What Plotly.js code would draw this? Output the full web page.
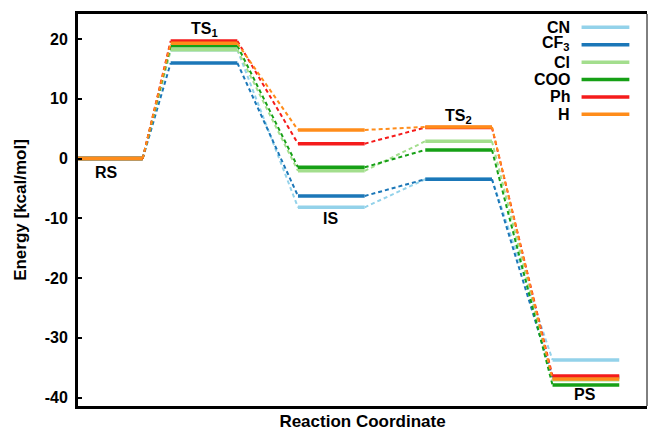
<!DOCTYPE html>
<html>
<head>
<meta charset="utf-8">
<script src="https://cdn.plot.ly/plotly-3.0.1.min.js"></script>
<style>html,body{margin:0;padding:0;background:#fff;}#chart{width:648px;height:431px;}</style>
</head>
<body>
<div id="chart"></div>
<script>
// ---- data ----
const states = ['RS', 'TS<sub>1</sub>', 'IS', 'TS<sub>2</sub>', 'PS'];
const seriesNames = ['CN', 'CF<sub>3</sub>', 'Cl', 'COO', 'Ph', 'H'];
const CN   = [0, 18.2, -8.15, -3.45, -33.7];
const CF3  = [0, 16.0, -6.25, -3.45, -36.6];
const Cl   = [0, 18.2, -2.05,  2.9,  -37.0];
const COO  = [0, 18.9, -1.45,  1.45, -37.9];
const Ph   = [0, 19.7,  2.5,   5.2,  -36.4];
const H    = [0, 19.3,  4.8,   5.3,  -36.9];
const yTicks = [-40, -30, -20, -10, 0, 10, 20];
const yTickText = ['-40', '-30', '-20', '-10', '0', '10', '20'];

// ---- layout / style ----
const seriesValues = [CN, CF3, Cl, COO, Ph, H];
const colors = ['#93d2ea', '#1b77b8', '#a3de8d', '#16a016', '#f51b1b', '#ff8c1a'];
const levelCenter = [0.256, 1, 2, 3, 4];
const halfW = 0.262;
const FONT = 'Liberation Sans, Arial, Helvetica, sans-serif';

const traces = [];
seriesValues.forEach((vals, s) => {
  const lx = [], ly = [], dx = [], dy = [];
  vals.forEach((v, i) => {
    lx.push(levelCenter[i] - halfW, levelCenter[i] + halfW, null);
    ly.push(v, v, null);
    if (i < vals.length - 1) {
      dx.push(levelCenter[i] + halfW, levelCenter[i + 1] - halfW, null);
      dy.push(v, vals[i + 1], null);
    }
  });
  traces.push({x: dx, y: dy, mode: 'lines', type: 'scatter', showlegend: false, hoverinfo: 'skip',
    line: {color: colors[s], width: 2, dash: '4px,3px'}});
  traces.push({x: lx, y: ly, mode: 'lines', type: 'scatter', name: seriesNames[s], showlegend: false,
    line: {color: colors[s], width: 3.5}});
});

const labelPos = [[0.23, -2.4, 'middle', 0], [1.0, 20.6, 'bottom', -5], [1.995, -10, 'middle', 0], [3.0, 6.0, 'bottom', -5], [3.99, -39.5, 'middle', 0]];
const annotations = states.map((t, i) => ({
  x: labelPos[i][0], y: labelPos[i][1], xref: 'x', yref: 'y', text: t, showarrow: false,
  yanchor: labelPos[i][2], yshift: labelPos[i][3],
  font: {family: FONT, size: 16, color: '#000', weight: 'bold'}
}));
const shapes = [
  {type: 'line', xref: 'paper', yref: 'paper', x0: 1, x1: 1, y0: 0, y1: 1, line: {color: '#000', width: 1}}
];
const legTop = 0.966, legStep = 0.0444;
seriesNames.forEach((n, s) => {
  const yy = legTop - s * legStep;
  const hasSub = n.indexOf('<sub>') >= 0;
  annotations.push({x: 0.8677, y: yy, xref: 'paper', yref: 'paper', text: n, showarrow: false,
    xanchor: 'right', yanchor: 'middle', align: 'right', yshift: hasSub ? 1 : 0,
    font: {family: FONT, size: 16, color: '#000', weight: 'bold'}});
  shapes.push({type: 'line', xref: 'paper', yref: 'paper', x0: 0.885, x1: 0.969, y0: yy, y1: yy,
    line: {color: colors[s], width: 3.5}});
});

const layout = {
  width: 648, height: 431,
  margin: {l: 78, r: 1, t: 14, b: 25},
  paper_bgcolor: '#fff', plot_bgcolor: '#fff',
  showlegend: false,
  font: {family: FONT, color: '#000'},
  xaxis: {range: [0.01, 4.48], showgrid: false, zeroline: false, showticklabels: false, ticks: '',
    showline: true, linewidth: 3, linecolor: '#000', mirror: true,
    title: {text: 'Reaction Coordinate', standoff: 8, font: {family: FONT, size: 17, weight: 'bold'}}},
  yaxis: {range: [-41.4, 24.2], showgrid: false, zeroline: false, tickmode: 'array',
    tickvals: yTicks, ticktext: yTickText,
    ticks: 'inside', ticklen: 4, tickwidth: 2, tickcolor: '#000', ticklabelstandoff: 4,
    tickfont: {family: FONT, size: 16, weight: 'bold'},
    showline: true, linewidth: 3, linecolor: '#000',
    title: {text: 'Energy [kcal/mol]', standoff: 14, font: {family: FONT, size: 17, weight: 'bold'}}},
  annotations: annotations,
  shapes: shapes
};
Plotly.newPlot('chart', traces, layout, {displayModeBar: false, staticPlot: true});
</script>
</body>
</html>
